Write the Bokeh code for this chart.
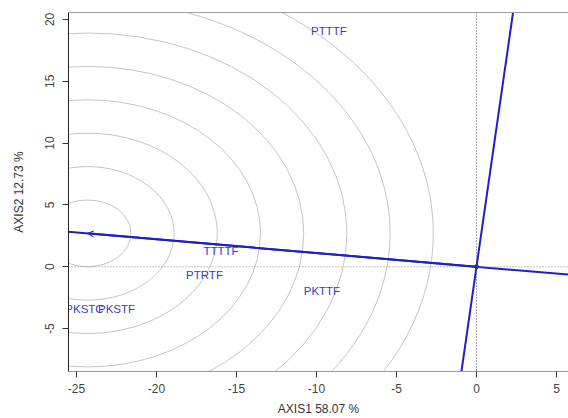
from bokeh.plotting import figure
from bokeh.models import Range1d, FixedTicker, LinearAxis, Span, Arrow, OpenHead, ColumnDataSource
from bokeh.core.properties import value
from bokeh.embed import file_html
from bokeh.resources import INLINE

# ---- data ----
x_ticks = [-25, -20, -15, -10, -5, 0, 5]
y_ticks = [-5, 0, 5, 10, 15, 20]
x_title = "AXIS1 58.07 %"
y_title = "AXIS2 12.73 %"

env_names = ["PTTTF", "TTTTF", "PTRTF", "PKSTF", "PKSTC", "PKTTF"]
env_x = [-9.22, -15.97, -17.0, -22.5, -24.5, -9.66]
env_y = [19.07, 1.25, -0.69, -3.39, -3.40, -2.0]

origin = [0.0, 0.0]
aec_point = [-24.3, 2.7]          # average environment coordinate (arrow tip, circle centre)
circle_radii = [2.7, 5.4, 8.1, 10.8, 13.5, 16.2, 18.9, 21.6]

x_lim = [-25.5, 5.75]
y_lim = [-8.47, 20.56]

BLUE = "#1f1fc8"
TEXT_BLUE = "#3b3bc4"
FONT = "Liberation Sans"

p = figure(width=568, height=418, output_backend="svg", toolbar_location=None,
           x_range=Range1d(*x_lim), y_range=Range1d(*y_lim),
           min_border_left=68, min_border_right=0, min_border_top=12, min_border_bottom=46)
p.background_fill_color = "white"
p.border_fill_color = "white"
p.outline_line_color = None
p.xgrid.visible = False
p.ygrid.visible = False

# concentric circles around the AEC point (ellipse in data units)
circ = ColumnDataSource(dict(x=[aec_point[0]] * len(circle_radii),
                             y=[aec_point[1]] * len(circle_radii),
                             w=[2 * r for r in circle_radii],
                             h=[2 * r for r in circle_radii]))
p.ellipse(x="x", y="y", width="w", height="h", source=circ,
          fill_color=None, line_color="#c4c4c4", line_width=1)

# reference dotted lines through origin
p.add_layout(Span(location=origin[1], dimension="width", line_color="#8a8a7a",
                  line_dash="1 2", line_width=1.2))
p.add_layout(Span(location=origin[0], dimension="height", line_color="#444444",
                  line_dash="1 2", line_width=1))

# AEC abscissa and ordinate
slope = aec_point[1] / aec_point[0]
ax_x = [x_lim[0] - 1, x_lim[1] + 1]
ax_y = [slope * v for v in ax_x]
p.line(ax_x, ax_y, line_color=BLUE, line_width=2)
perp = -1.0 / slope
or_y = [y_lim[0] - 1, y_lim[1] + 1]
or_x = [v / perp for v in or_y]
p.line(or_x, or_y, line_color=BLUE, line_width=2)

# arrow head at AEC point
p.add_layout(Arrow(end=OpenHead(size=6, line_color=BLUE, line_width=1),
                   x_start=origin[0], y_start=origin[1],
                   x_end=aec_point[0], y_end=aec_point[1],
                   line_color=BLUE, line_width=2))
p.scatter([origin[0]], [origin[1]], size=4, color=BLUE)

# environment labels
lab = ColumnDataSource(dict(x=env_x, y=env_y, t=env_names))
p.text(x="x", y="y", text="t", source=lab, text_align="center", text_baseline="middle",
       text_color=TEXT_BLUE, text_font=value(FONT), text_font_size="11.5px")

# axes
for ax in (p.xaxis[0], p.yaxis[0]):
    ax.major_label_text_font = FONT
    ax.major_label_text_font_size = "12px"
    ax.major_label_text_color = "#444444"
    ax.axis_label_text_font = FONT
    ax.axis_label_text_font_size = "12px"
    ax.axis_label_text_font_style = "normal"
    ax.axis_label_text_color = "#333333"
    ax.minor_tick_line_color = None
    ax.major_tick_out = 6
    ax.major_tick_in = 0
    ax.major_tick_line_color = "#333333"

p.xaxis.ticker = FixedTicker(ticks=x_ticks)
p.yaxis.ticker = FixedTicker(ticks=y_ticks)
p.xaxis.major_label_overrides = {t: str(t) for t in x_ticks}
p.yaxis.major_label_overrides = {t: str(t) for t in y_ticks}
p.xaxis.axis_label = x_title
p.yaxis.axis_label = y_title
p.xaxis.axis_line_color = "#999999"
p.yaxis.axis_line_color = "#222222"
p.yaxis.major_label_orientation = "vertical"
p.xaxis.major_label_standoff = 6
p.xaxis.axis_label_standoff = 6
p.yaxis.major_label_standoff = 8
p.yaxis.axis_label_standoff = 17

top = LinearAxis(ticker=FixedTicker(ticks=[]), major_label_text_font_size="0px",
                 major_tick_out=0, major_tick_in=0, minor_tick_out=0, minor_tick_in=0,
                 axis_line_color="#a0a0a0")
p.add_layout(top, "above")

open("out.html", "w").write(file_html(p, INLINE))
